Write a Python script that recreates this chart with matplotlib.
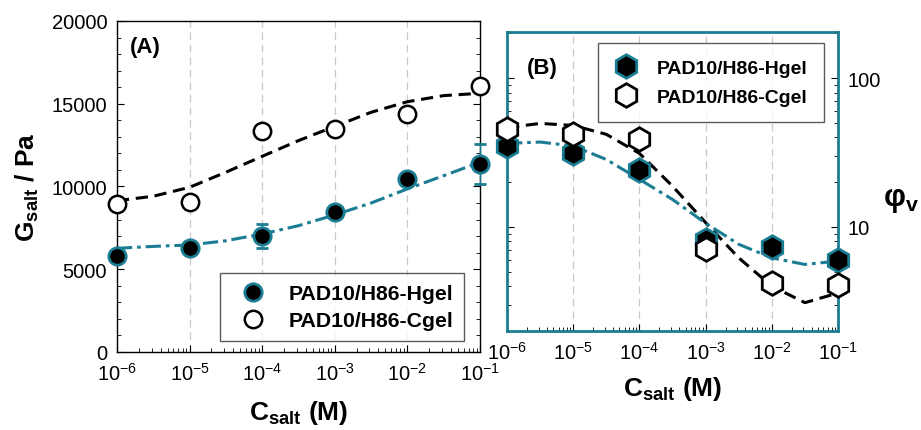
import matplotlib
matplotlib.use("Agg")
import matplotlib.pyplot as plt
from matplotlib.lines import Line2D
from matplotlib.ticker import LogLocator, MultipleLocator, NullFormatter, FuncFormatter

plt.rcParams['font.family'] = ['Liberation Sans', 'DejaVu Sans']
plt.rcParams['mathtext.fontset'] = 'custom'
plt.rcParams['mathtext.rm'] = 'Liberation Sans'
plt.rcParams['mathtext.bf'] = 'Liberation Sans:bold'
plt.rcParams['mathtext.it'] = 'Liberation Sans:italic'

TEAL = '#1b7d93'

# concentracion de sal (M)
c_salt = [1e-6, 1e-5, 1e-4, 1e-3, 1e-2, 1e-1]

# (A) modulo G_salt / Pa
g_hgel = [5780, 6260, 6990, 8440, 10450, 11360]
g_hgel_err = [150, 150, 730, 200, 250, 1200]
g_cgel = [8940, 9080, 13330, 13470, 14380, 16090]
g_cgel_err = [100, 100, 250, 100, 100, 100]

# curvas de ajuste (cada media decada)
c_fit = [1e-6, 10**-5.5, 1e-5, 10**-4.5, 1e-4, 10**-3.5, 1e-3, 10**-2.5, 1e-2, 10**-1.5, 1e-1]
g_fit_cgel = [9140, 9410, 9950, 10860, 11820, 12770, 13630, 14480, 15120, 15490, 15630]
g_fit_hgel = [6265, 6380, 6465, 6720, 7130, 7630, 8280, 9000, 9850, 10650, 11460]

# (B) phi_v
phi_hgel = [35.0, 31.5, 24.1, 8.2, 7.3, 6.0]
phi_cgel = [45.7, 41.9, 39.2, 7.1, 4.2, 4.1]
phi_fit_cgel = [46.5, 49.6, 48.1, 41.9, 31.2, 18.8, 10.7, 6.2, 4.0, 3.1, 3.6]
phi_fit_hgel = [36.4, 37.2, 35.0, 28.4, 20.9, 15.3, 10.6, 7.65, 6.2, 5.6, 5.9]

label_h = 'PAD10/H86-Hgel'
label_c = 'PAD10/H86-Cgel'

DASH = (0, (4, 2.2))
DASHDOT = (0, (5, 1.6, 1.2, 1.6))

fig = plt.figure(figsize=(9.21, 4.31), dpi=100)

# ---------------- Panel A ----------------
ax = fig.add_axes([0.127, 0.181, 0.394, 0.768])
ax.set_xscale('log')
ax.set_xlim(1e-6, 1e-1)
ax.set_ylim(0, 20000)
for xv in c_salt[1:-1]:
    ax.axvline(xv, color='#c8c8c8', lw=0.9, ls=(0, (6, 4)), zorder=0)

ax.plot(c_fit, g_fit_cgel, color='black', lw=2.2, ls=DASH, zorder=2)
ax.plot(c_fit, g_fit_hgel, color=TEAL, lw=2.2, ls=DASHDOT, zorder=2)

ax.errorbar(c_salt, g_cgel, yerr=g_cgel_err, fmt='o', ms=12.5, mfc='white', mec='black',
            mew=1.8, ecolor='black', elinewidth=1, capsize=4, clip_on=False, zorder=3)
ax.errorbar(c_salt, g_hgel, yerr=g_hgel_err, fmt='o', ms=12.5, mfc='black', mec=TEAL,
            mew=2.0, ecolor=TEAL, elinewidth=1, capsize=4, clip_on=False, zorder=4)

ax.yaxis.set_major_locator(MultipleLocator(5000))
ax.yaxis.set_minor_locator(MultipleLocator(1000))
ax.xaxis.set_major_locator(LogLocator(base=10, numticks=10))
ax.xaxis.set_minor_locator(LogLocator(base=10, subs=range(2, 10), numticks=20))
ax.xaxis.set_minor_formatter(NullFormatter())
ax.tick_params(which='both', direction='in', left=True, right=True, top=False,
               labelsize=14.5)
ax.tick_params(which='major', length=5, pad=7)
ax.tick_params(which='minor', length=3)
for s in ax.spines.values():
    s.set_linewidth(1.0)

ax.set_xlabel(r'$\mathbf{C_{salt}}$ (M)', fontsize=19, fontweight='bold', labelpad=10)
ax.set_ylabel(r'$\mathbf{G_{salt}}$ / Pa', fontsize=19, fontweight='bold', labelpad=8)
ax.text(0.036, 0.955, '(A)', transform=ax.transAxes, fontsize=16, fontweight='bold',
        va='top', ha='left')

hA = [Line2D([], [], ls='none', marker='o', ms=12.5, mfc='black', mec=TEAL, mew=2.0),
      Line2D([], [], ls='none', marker='o', ms=12.5, mfc='white', mec='black', mew=1.8)]
leg = ax.legend(hA, [label_h, label_c], loc='lower right', bbox_to_anchor=(0.956, 0.033),
                borderaxespad=0, fontsize=15.3, frameon=True, fancybox=False,
                edgecolor='#333333', handletextpad=0.63, borderpad=0.5,
                labelspacing=0.4, handlelength=2.1)
for t in leg.get_texts():
    t.set_fontweight('bold')
leg.get_frame().set_linewidth(1.0)

# ---------------- Panel B ----------------
bx = fig.add_axes([0.5505, 0.2297, 0.3594, 0.6937])
bx.set_facecolor('white')
bx.set_xscale('log')
bx.set_yscale('log')
bx.set_xlim(1e-6, 1e-1)
bx.set_ylim(2.0, 204)
for xv in c_salt[1:-1]:
    bx.axvline(xv, color='#c8c8c8', lw=0.9, ls=(0, (6, 4)), zorder=0)

bx.plot(c_fit, phi_fit_cgel, color='black', lw=2.2, ls=DASH, zorder=2)
bx.plot(c_fit, phi_fit_hgel, color=TEAL, lw=2.2, ls=DASHDOT, zorder=2)

bx.plot(c_salt, phi_hgel, 'h', ms=17, mfc='black', mec=TEAL, mew=2.0,
        clip_on=False, zorder=3, ls='none', label=label_h)
bx.plot(c_salt, phi_cgel, 'h', ms=17, mfc='white', mec='black', mew=2.0,
        clip_on=False, zorder=4, ls='none', label=label_c)

bx.xaxis.set_major_locator(LogLocator(base=10, numticks=10))
bx.xaxis.set_minor_locator(LogLocator(base=10, subs=range(2, 10), numticks=20))
bx.xaxis.set_minor_formatter(NullFormatter())
bx.yaxis.set_major_locator(LogLocator(base=10, numticks=10))
bx.yaxis.set_minor_locator(LogLocator(base=10, subs=range(2, 10), numticks=20))
bx.yaxis.set_major_formatter(FuncFormatter(lambda v, _: f'{v:g}'))
bx.yaxis.set_minor_formatter(NullFormatter())
bx.yaxis.tick_right()
bx.tick_params(which='both', direction='in', left=True, right=True, top=False,
               labelsize=14.5, labelleft=False, labelright=True)
bx.tick_params(which='major', length=5, pad=7)
bx.tick_params(which='minor', length=3)
for s in bx.spines.values():
    s.set_color(TEAL)
    s.set_linewidth(2.0)

bx.set_xlabel(r'$\mathbf{C_{salt}}$ (M)', fontsize=19, fontweight='bold', labelpad=8)
bx.text(1.135, 0.441, r'$\mathbf{φ_{v}}$', transform=bx.transAxes, fontsize=22,
        ha='left', va='center')
bx.text(0.06, 0.916, '(B)', transform=bx.transAxes, fontsize=16, fontweight='bold',
        va='top', ha='left')

leg2 = bx.legend(loc='upper right', bbox_to_anchor=(0.958, 0.963), borderaxespad=0,
                 fontsize=14, frameon=True, fancybox=False, edgecolor='#333333',
                 handletextpad=1.0, borderpad=0.85, labelspacing=0.55, handlelength=1.2)
for t in leg2.get_texts():
    t.set_fontweight('bold')
leg2.get_frame().set_linewidth(1.0)

fig.savefig('out.png', dpi=100)
